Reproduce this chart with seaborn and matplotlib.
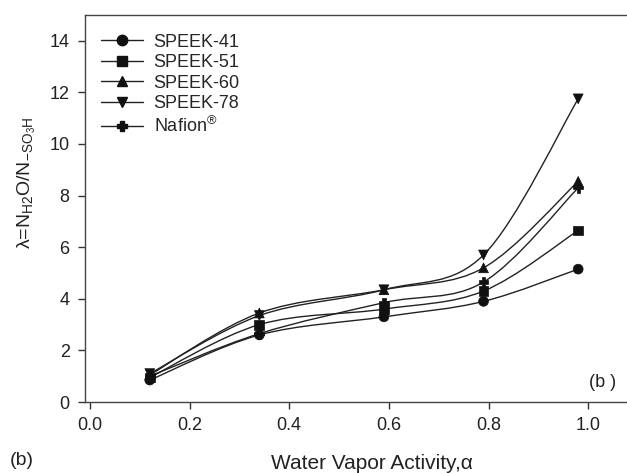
import numpy as np
import pandas as pd
import matplotlib
matplotlib.use("Agg")
import matplotlib.pyplot as plt
from matplotlib.path import Path
from matplotlib.patches import PathPatch
from matplotlib.lines import Line2D
import seaborn as sns

# water vapor activity
activity = [0.12, 0.34, 0.59, 0.79, 0.98]

speek41 = [0.85, 2.60, 3.30, 3.90, 5.15]
speek51 = [0.95, 3.00, 3.60, 4.30, 6.65]
speek60 = [1.05, 3.45, 4.35, 5.20, 8.55]
speek78 = [1.10, 3.35, 4.35, 5.70, 11.75]
nafion = [1.00, 2.65, 3.85, 4.65, 8.30]

labels = ['SPEEK-41', 'SPEEK-51', 'SPEEK-60', 'SPEEK-78', 'Nafion$^{\\circledR}$']
series = [speek41, speek51, speek60, speek78, nafion]
markers = ['o', 's', '^', 'v', 'P']

sns.set_theme(style="ticks")
plt.rcParams['font.family'] = ['Liberation Sans', 'DejaVu Sans']
plt.rcParams['mathtext.fontset'] = 'custom'
plt.rcParams['mathtext.rm'] = 'Liberation Sans'
plt.rcParams['mathtext.it'] = 'Liberation Sans'

rows = []
for lab, vals in zip(labels, series):
    for a, v in zip(activity, vals):
        rows.append({'activity': a, 'lam': v, 'sample': lab})
df = pd.DataFrame(rows)

fig = plt.figure(figsize=(6.27, 4.73), dpi=100)
ax = fig.add_axes([85 / 627, 71 / 473, 542 / 627, 387 / 473])


def smooth_path(x, y):
    # catmull-rom curve through the points, drawn as cubic bezier segments
    pts = np.column_stack([x, y])
    verts = [tuple(pts[0])]
    codes = [Path.MOVETO]
    n = len(pts)
    for i in range(n - 1):
        p0 = pts[max(i - 1, 0)]
        p1 = pts[i]
        p2 = pts[i + 1]
        p3 = pts[min(i + 2, n - 1)]
        c1 = p1 + (p2 - p0) / 6.0
        c2 = p2 - (p3 - p1) / 6.0
        verts += [tuple(c1), tuple(c2), tuple(p2)]
        codes += [Path.CURVE4] * 3
    return Path(verts, codes)


for vals in series:
    ax.add_patch(PathPatch(smooth_path(activity, vals), facecolor='none',
                           edgecolor='#222222', lw=1.0, zorder=2))

sns.scatterplot(data=df, x='activity', y='lam', style='sample',
                markers=dict(zip(labels, markers)), color='#111111',
                s=50, edgecolor='#111111', linewidth=0.5, legend=False,
                zorder=3, ax=ax)

ax.set_xlim(-0.01, 1.078)
ax.set_ylim(0, 15)
ax.set_xticks([0.0, 0.2, 0.4, 0.6, 0.8, 1.0])
ax.set_xticklabels(['0.0', '0.2', '0.4', '0.6', '0.8', '1.0'])
ax.set_yticks([0, 2, 4, 6, 8, 10, 12, 14])
ax.tick_params(direction='out', length=5, width=1, labelsize=13,
               color='#333333', labelcolor='#222222', pad=6)
for s in ['left', 'bottom', 'top']:
    ax.spines[s].set_visible(True)
    ax.spines[s].set_color('#444444')
    ax.spines[s].set_linewidth(1.0)
ax.spines['right'].set_visible(False)

ax.set_xlabel('Water Vapor Activity,\u03b1', fontsize=15, color='#222222')
ax.xaxis.set_label_coords(0.53, -0.135)
ax.set_ylabel('\u03bb=N$_{\\mathrm{H2}}$O/N$_{\\mathrm{-SO_3H}}$', fontsize=14,
              color='#222222')
ax.yaxis.set_label_coords(-0.087, 0.566)

handles = [Line2D([0], [0], color='#222222', lw=1.0, marker=m,
                  markersize=7.5 if m != 'P' else 7, markerfacecolor='#111111',
                  markeredgecolor='#111111') for m in markers]
ax.legend(handles, labels, loc='upper left', bbox_to_anchor=(0.01, 0.98),
          frameon=False, fontsize=13, handlelength=2.3, handletextpad=0.6,
          labelspacing=0.2, borderaxespad=0.2)

ax.text(1.028, 0.75, '(b )', fontsize=13, color='#222222', ha='center',
        va='center')
fig.text(10 / 627, 1 - 460 / 473, '(b)', fontsize=14, color='#222222',
         ha='left', va='center')

fig.savefig('out.png', dpi=100)
